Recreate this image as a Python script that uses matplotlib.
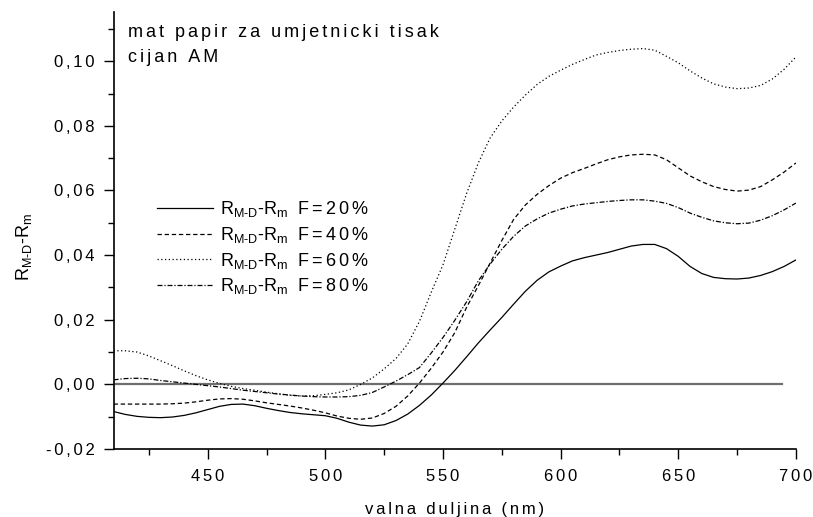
import matplotlib.pyplot as plt
from matplotlib.ticker import MultipleLocator, FuncFormatter

plt.rcParams['font.family'] = ['Liberation Sans', 'DejaVu Sans']
plt.rcParams['mathtext.fontset'] = 'custom'
plt.rcParams['mathtext.rm'] = 'Liberation Sans'
plt.rcParams['mathtext.it'] = 'Liberation Sans'

wl = list(range(410, 701, 5))

f20 = [-0.0084, -0.0093, -0.0099, -0.0102, -0.0103, -0.0101, -0.0096, -0.0088, -0.0078, -0.0068,
       -0.0062, -0.0061, -0.0066, -0.0074, -0.0081, -0.0087, -0.0091, -0.0094, -0.0097, -0.0105,
       -0.0117, -0.0126, -0.0129, -0.0125, -0.0112, -0.0092, -0.0065, -0.0033, 0.0004, 0.0043,
       0.0085, 0.0128, 0.0168, 0.0207, 0.0248, 0.0288, 0.0322, 0.0348, 0.0366, 0.0382,
       0.0392, 0.0400, 0.0408, 0.0418, 0.0428, 0.0433, 0.0433, 0.0420, 0.0396, 0.0365,
       0.0343, 0.0331, 0.0327, 0.0326, 0.0329, 0.0337, 0.0349, 0.0365, 0.0385]

f40 = [-0.0061, -0.0061, -0.0061, -0.0061, -0.0061, -0.0060, -0.0058, -0.0054, -0.0049, -0.0045,
       -0.0044, -0.0046, -0.0051, -0.0057, -0.0062, -0.0067, -0.0073, -0.0080, -0.0088, -0.0098,
       -0.0105, -0.0108, -0.0104, -0.0090, -0.0068, -0.0036, 0.0004, 0.0050, 0.0100, 0.0160,
       0.0238, 0.0305, 0.0375, 0.0445, 0.0510, 0.0555, 0.0588, 0.0615, 0.0638, 0.0655,
       0.0668, 0.0682, 0.0695, 0.0704, 0.0710, 0.0712, 0.0710, 0.0695, 0.0670, 0.0645,
       0.0627, 0.0612, 0.0603, 0.0598, 0.0601, 0.0612, 0.0633, 0.0657, 0.0685]

f60 = [0.0104, 0.0104, 0.0100, 0.0088, 0.0073, 0.0058, 0.0042, 0.0027, 0.0014, 0.0003,
       -0.0006, -0.0013, -0.0018, -0.0024, -0.0029, -0.0034, -0.0036, -0.0035, -0.0031, -0.0026,
       -0.0017, 0.0000, 0.0020, 0.0048, 0.0080, 0.0125, 0.0195, 0.0285, 0.0370, 0.0480,
       0.0590, 0.0685, 0.0762, 0.0815, 0.0858, 0.0895, 0.0928, 0.0953, 0.0972, 0.0990,
       0.1005, 0.1019, 0.1027, 0.1033, 0.1037, 0.1039, 0.1034, 0.1015, 0.0995, 0.0970,
       0.0948, 0.0930, 0.0920, 0.0915, 0.0917, 0.0925, 0.0945, 0.0975, 0.1013]

f80 = [0.0014, 0.0018, 0.0019, 0.0017, 0.0012, 0.0008, 0.0004, 0.0000, -0.0004, -0.0008,
       -0.0013, -0.0018, -0.0022, -0.0026, -0.0030, -0.0033, -0.0036, -0.0038, -0.0039, -0.0039,
       -0.0038, -0.0034, -0.0025, -0.0008, 0.0010, 0.0030, 0.0052, 0.0097, 0.0145, 0.0198,
       0.0255, 0.0320, 0.0372, 0.0418, 0.0458, 0.0490, 0.0512, 0.0530, 0.0542, 0.0552,
       0.0558, 0.0562, 0.0566, 0.0569, 0.0571, 0.0571, 0.0567, 0.0560, 0.0547, 0.0530,
       0.0517, 0.0506, 0.0500, 0.0497, 0.0499, 0.0508, 0.0522, 0.0540, 0.0561]

zero_x = [410, 694]
zero_y = [0, 0]

labels = ['20%', '40%', '60%', '80%']


def spaced(s, gap='\u2006'):
    # the original export has wide letter spacing
    return gap.join(s)


fig = plt.figure(figsize=(8.13, 5.17), dpi=100)
ax = fig.add_axes([0.1397, 0.1315, 0.8393, 0.8458])

ax.plot(zero_x, zero_y, color='#6e6e6e', lw=1.6)

rmd = r'R$_{\mathregular{M\text{-}D}}$-R$_{\mathregular{m}}$'
styles = ['-', (0, (3.5, 2.2)), (0, (1, 2)), (0, (4, 1.5, 1, 1.5))]
for ys, lab, ls in zip([f20, f40, f60, f80], labels, styles):
    ax.plot(wl, ys, color='black', lw=0.9, linestyle=ls,
            label=rmd + '  ' + spaced('F=' + lab))

ax.set_xlim(410, 700)
ax.set_ylim(-0.02, 0.1153)
ax.xaxis.set_major_locator(MultipleLocator(50))
ax.xaxis.set_minor_locator(MultipleLocator(25))
ax.yaxis.set_major_locator(MultipleLocator(0.02))
ax.yaxis.set_minor_locator(MultipleLocator(0.01))
ax.xaxis.set_major_formatter(FuncFormatter(lambda v, p: spaced(f'{v:.0f}')))
ax.yaxis.set_major_formatter(FuncFormatter(lambda v, p: spaced(f'{v:.2f}'.replace('.', ','))))

for s in ['top', 'right']:
    ax.spines[s].set_visible(False)
for s in ['left', 'bottom']:
    ax.spines[s].set_linewidth(1.2)

ax.tick_params(which='major', direction='out', length=7.5, width=1, labelsize=12)
ax.tick_params(axis='x', which='major', pad=7)
ax.tick_params(axis='y', which='major', pad=6)
ax.tick_params(which='minor', direction='out', length=4, width=1)

ax.set_xlabel(spaced('valna duljina (nm)'), fontsize=12)
ax.xaxis.set_label_coords(0.5, -0.121)
ax.set_ylabel(rmd, fontsize=13)
ax.yaxis.set_label_coords(-0.117, 0.462)

ax.text(0.0207, 0.943, spaced('mat papir za umjetnicki tisak'), transform=ax.transAxes,
        fontsize=13, va='baseline', ha='left')
ax.text(0.0207, 0.884, spaced('cijan AM'), transform=ax.transAxes,
        fontsize=13, va='baseline', ha='left')

ax.legend(loc='upper left', bbox_to_anchor=(0.063, 0.571), frameon=False, fontsize=13,
          handlelength=3.15, handletextpad=0.37, labelspacing=0.31, borderpad=0,
          borderaxespad=0)

fig.savefig('out.png', dpi=100)
